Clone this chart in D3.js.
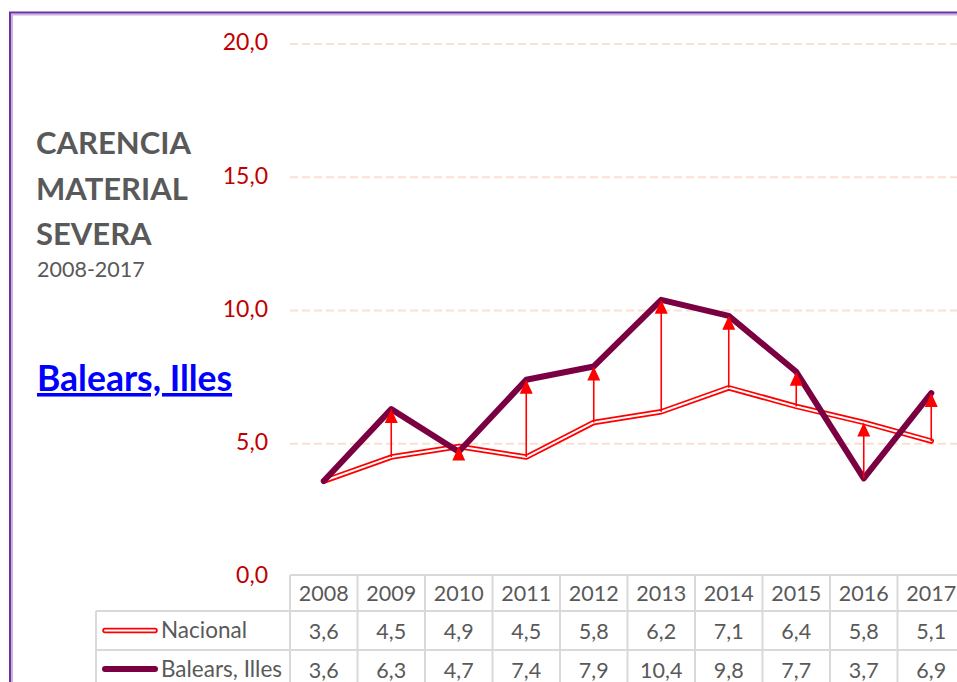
<!DOCTYPE html>
<html lang="es">
  <head>
    <meta charset="utf-8">
    <title>Carencia material severa</title>
    <style>
      body { margin: 0; background: #fff; }
      svg { display: block; font-family: Lato, "Open Sans", sans-serif; }
    </style>
  </head>
  <body>
    <div id="chart"></div>
  </body>
  <script src="https://d3js.org/d3.v7.min.js"></script>
  <script type="text/javascript">
    // datos
    var years = ["2008", "2009", "2010", "2011", "2012", "2013", "2014", "2015", "2016", "2017"];
    var nacional = [3.6, 4.5, 4.9, 4.5, 5.8, 6.2, 7.1, 6.4, 5.8, 5.1];
    var balears = [3.6, 6.3, 4.7, 7.4, 7.9, 10.4, 9.8, 7.7, 3.7, 6.9];
    var yTicks = [0, 5, 10, 15, 20];
    var seriesNames = ["Nacional", "Balears, Illes"];

    var width = 957, height = 682;
    var fmt = function(v) { return d3.format(".1f")(v).replace(".", ","); };

    var svg = d3.select("#chart")
      .append("svg")
      .attr("width", width)
      .attr("height", height);

    // marco
    svg.append("line").attr("x1", 10).attr("y1", 14.5).attr("x2", width).attr("y2", 14.5)
      .attr("stroke", "#c9b3e0").attr("stroke-width", 2);
    svg.append("line").attr("x1", 12).attr("y1", 14).attr("x2", 12).attr("y2", height)
      .attr("stroke", "#c9b3e0").attr("stroke-width", 2);
    svg.append("line").attr("x1", 9).attr("y1", 12.5).attr("x2", width).attr("y2", 12.5)
      .attr("stroke", "#7030a0").attr("stroke-width", 2);
    svg.append("line").attr("x1", 10).attr("y1", 12).attr("x2", 10).attr("y2", height)
      .attr("stroke", "#7030a0").attr("stroke-width", 2);

    var x = d3.scaleBand().domain(years).range([290, 965]);
    var y = d3.scaleLinear().domain([0, 20]).range([577, 44]);
    var cx = function(d, i) { return x(years[i]) + x.bandwidth() / 2; };

    // titulo
    var gTitle = svg.append("g").attr("fill", "#595959").attr("font-weight", "bold");
    ["CARENCIA", "MATERIAL", "SEVERA"].forEach(function(t, i) {
      gTitle.append("text").attr("x", 36).attr("y", 154 + i * 45.5)
        .attr("font-size", 31).text(t);
    });
    svg.append("text").attr("x", 37).attr("y", 277).attr("fill", "#595959")
      .attr("font-size", 21.5).text("2008-2017");
    svg.append("text").attr("x", 37).attr("y", 391).attr("fill", "#0000ff")
      .attr("font-weight", "bold").attr("font-size", 35.5)
      .attr("text-decoration", "underline").text("Balears, Illes");

    // eje y
    var gAxis = svg.append("g").attr("transform", "translate(268,0)")
      .call(d3.axisLeft(y).tickValues(yTicks).tickFormat(fmt).tickSize(0).tickPadding(0));
    gAxis.select(".domain").remove();
    gAxis.selectAll("text").attr("fill", "#c00000").attr("font-size", 23)
      .attr("font-family", "Lato, sans-serif").attr("dy", "0.26em");

    // rejilla
    svg.append("g").selectAll("line")
      .data(yTicks.filter(function(t) { return t > 0; }))
      .enter().append("line")
      .attr("x1", 290).attr("x2", width)
      .attr("y1", function(t) { return y(t); }).attr("y2", function(t) { return y(t); })
      .attr("stroke", "#fbe0cf").attr("stroke-width", 2).attr("stroke-dasharray", "8,4");

    // lineas
    var line = d3.line().x(cx).y(function(d) { return y(d); });
    var gLines = svg.append("g").attr("fill", "none").attr("stroke-linejoin", "round").attr("stroke-linecap", "round");
    gLines.append("path").datum(nacional).attr("d", line).attr("stroke", "#ff0000").attr("stroke-width", 5.5);
    gLines.append("path").datum(nacional).attr("d", line).attr("stroke", "#ffffff").attr("stroke-width", 2);

    // flechas
    var gArrow = svg.append("g");
    years.forEach(function(yr, i) {
      var lo = Math.min(nacional[i], balears[i]);
      var hi = Math.max(nacional[i], balears[i]);
      if (hi === lo) return;
      var xx = x(yr) + x.bandwidth() / 2;
      var top = y(hi), bot = y(lo);
      if (bot - top > 8) {
        gArrow.append("line").attr("x1", xx).attr("x2", xx).attr("y1", bot).attr("y2", top + 6)
          .attr("stroke", "#ff0000").attr("stroke-width", 1.6);
      }
      gArrow.append("path")
        .attr("d", "M" + xx + "," + top + "L" + (xx - 6.5) + "," + (top + 14) + "L" + (xx + 6.5) + "," + (top + 14) + "Z")
        .attr("fill", "#ff0000");
    });

    gLines.append("path").datum(balears).attr("d", line).attr("stroke", "#7b0041").attr("stroke-width", 6);

    // tabla
    var gTable = svg.append("g");
    var rowY = [575, 611, 650, 689];
    var grid = "#d9d9d9";
    gTable.append("line").attr("x1", 290).attr("x2", width).attr("y1", rowY[0]).attr("y2", rowY[0])
      .attr("stroke", grid).attr("stroke-width", 2);
    [rowY[1], rowY[2], rowY[3]].forEach(function(yy) {
      gTable.append("line").attr("x1", 96).attr("x2", width).attr("y1", yy).attr("y2", yy)
        .attr("stroke", grid).attr("stroke-width", 2);
    });
    years.concat(["end"]).forEach(function(yr, i) {
      var xx = i < years.length ? x(yr) : x.range()[1];
      gTable.append("line").attr("x1", xx).attr("x2", xx).attr("y1", rowY[0]).attr("y2", height)
        .attr("stroke", grid).attr("stroke-width", 2);
    });
    gTable.append("line").attr("x1", 96).attr("x2", 96).attr("y1", rowY[1]).attr("y2", height)
      .attr("stroke", grid).attr("stroke-width", 2);

    var gCells = gTable.append("g").attr("fill", "#595959").attr("font-size", 21.5).attr("text-anchor", "middle");
    gCells.selectAll("text.yr").data(years).enter().append("text").attr("class", "yr")
      .attr("x", function(d) { return x(d) + x.bandwidth() / 2; }).attr("y", 601).text(function(d) { return d; });
    [nacional, balears].forEach(function(vals, r) {
      gCells.selectAll("text.v" + r).data(vals).enter().append("text").attr("class", "v" + r)
        .attr("x", cx).attr("y", 639 + r * 38.5).text(fmt);
    });

    // leyenda
    seriesNames.forEach(function(name, r) {
      var ly = 630.5 + r * 38.5;
      if (r === 0) {
        gTable.append("line").attr("x1", 105).attr("x2", 155).attr("y1", ly).attr("y2", ly)
          .attr("stroke", "#ff0000").attr("stroke-width", 5.5).attr("stroke-linecap", "round");
        gTable.append("line").attr("x1", 105).attr("x2", 155).attr("y1", ly).attr("y2", ly)
          .attr("stroke", "#ffffff").attr("stroke-width", 2).attr("stroke-linecap", "round");
      } else {
        gTable.append("line").attr("x1", 105).attr("x2", 155).attr("y1", ly).attr("y2", ly)
          .attr("stroke", "#7b0041").attr("stroke-width", 6).attr("stroke-linecap", "round");
      }
      gTable.append("text").attr("x", 161).attr("y", ly + 7.5).attr("fill", "#595959")
        .attr("font-size", 22.5).text(name);
    });
  </script>
</html>
